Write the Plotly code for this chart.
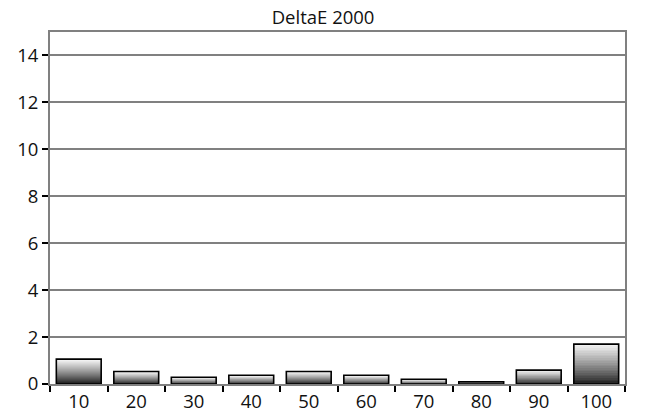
import plotly.graph_objects as go

categories = ["10", "20", "30", "40", "50", "60", "70", "80", "90", "100"]
delta_e = [1.06, 0.53, 0.29, 0.37, 0.53, 0.37, 0.20, 0.09, 0.59, 1.70]
y_ticks = [0, 2, 4, 6, 8, 10, 12, 14]
title_text = "DeltaE 2000"

N_SEG = 24
fig = go.Figure()
for i in range(N_SEG):
    t = (i + 0.5) / N_SEG
    g = int(15 + (245 - 15) * (t ** 0.8))
    fig.add_trace(go.Bar(
        x=categories,
        y=[v / N_SEG for v in delta_e],
        base=[v * i / N_SEG for v in delta_e],
        marker=dict(color=f"rgb({g},{g},{g})", line=dict(width=0)),
        hoverinfo="skip", showlegend=False,
    ))
fig.add_trace(go.Bar(
    x=categories, y=delta_e,
    marker=dict(color="rgba(0,0,0,0)", line=dict(color="black", width=1.6)),
    showlegend=False, name="DeltaE 2000",
))

font_family = "Open Sans, Lato, sans-serif"
fig.update_layout(
    width=654, height=417,
    barmode="overlay", bargap=0.22,
    paper_bgcolor="white", plot_bgcolor="white",
    margin=dict(l=50, r=29, t=32, b=33),
    title=dict(text=title_text, x=0.494, xanchor="center", y=0.957, yanchor="middle",
               font=dict(family=font_family, size=18.5, color="#111")),
    font=dict(family=font_family, size=18.5, color="#111"),
    xaxis=dict(
        type="category", tickson="boundaries", ticks="outside", ticklen=6, tickwidth=2,
        tickcolor="black", showline=True, linecolor="#808080", linewidth=2, mirror=True,
        showgrid=False, tickfont=dict(size=18.5), automargin=False,
    ),
    yaxis=dict(
        range=[0, 15], tickvals=y_ticks, ticks="outside", ticklen=6, tickwidth=2,
        tickcolor="black", showline=True, linecolor="#808080", linewidth=2, mirror=True,
        showgrid=True, gridcolor="#808080", gridwidth=1.5, zeroline=False,
        tickfont=dict(size=18.5), automargin=False, ticklabelstandoff=0,
    ),
)

fig.write_html("out.html", config={"displayModeBar": False},
               post_script="document.body.style.margin='0';")
